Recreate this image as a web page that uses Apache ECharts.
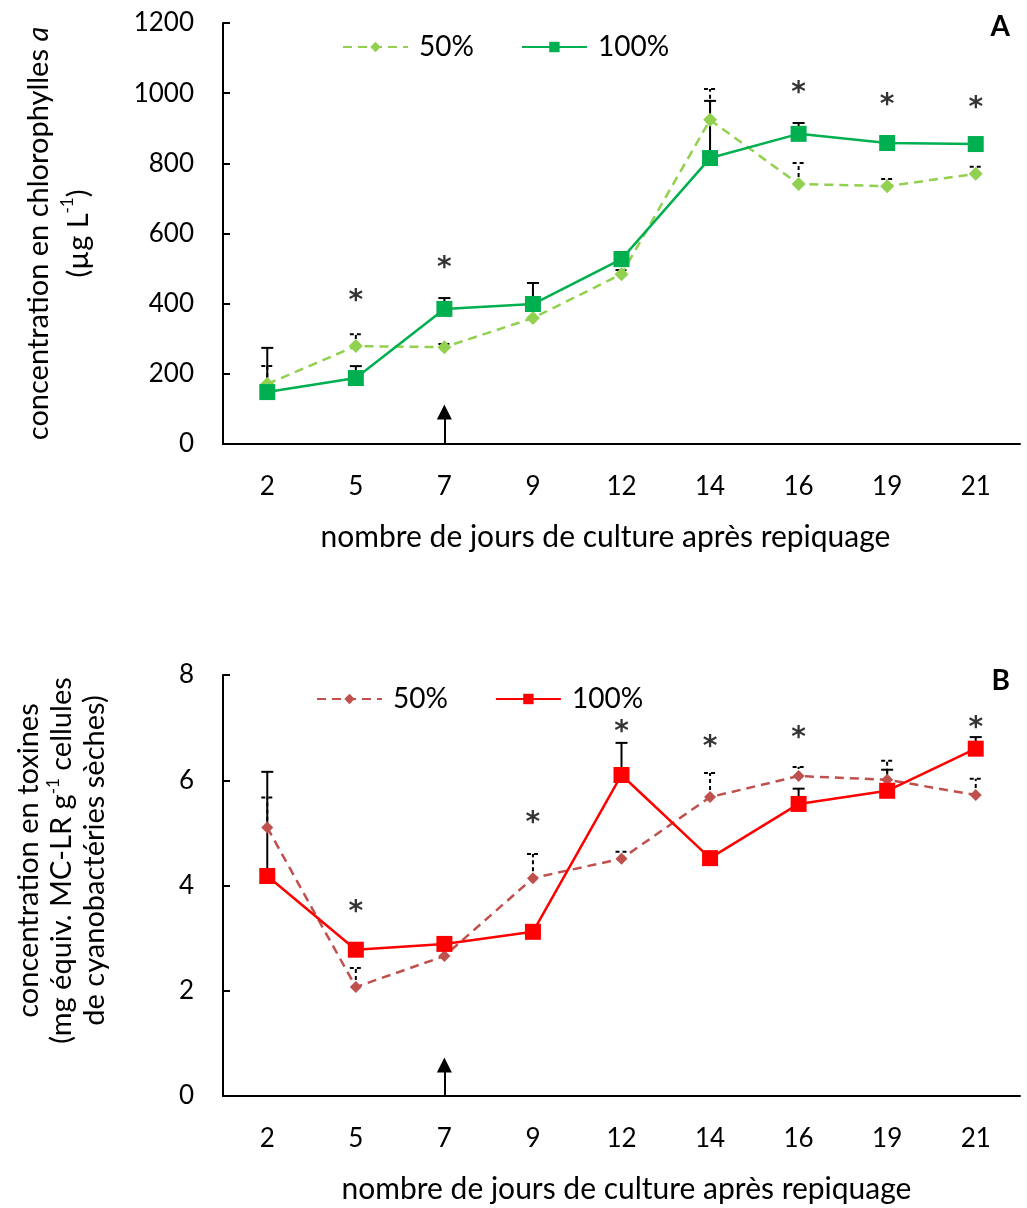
<!DOCTYPE html>
<html><head><meta charset="utf-8">
<script src="https://cdn.jsdelivr.net/npm/echarts@6/dist/echarts.min.js"></script>
<style>html,body{margin:0;padding:0;background:#fff}#c{width:1027px;height:1208px}</style>
</head><body><div id="c"></div>
<script>
const days = ['2','5','7','9','12','14','16','19','21'];
const chl50 = [171,279,276,359,484,924,741,735,770];
const chl50Err = [51,34,9,0,12,88,60,20,20];
const chl100 = [148,188,385,399,527,815,884,858,855];
const chl100Err = [126,34,31,60,20,163,31,0,0];
const chlStars = [null,425,519,null,null,null,1018,983,975];
const chlArrow = [0, 91];

const tox50 = [5.10,2.07,2.66,4.14,4.51,5.68,6.08,6.01,5.72];
const tox50Err = [0.57,0.36,0,0.46,0.13,0.46,0.17,0.36,0.31];
const tox100 = [4.18,2.78,2.89,3.12,6.10,4.52,5.55,5.80,6.60];
const tox100Err = [1.98,0,0,0,0.61,0,0.29,0.40,0.22];
const toxStars = [null,3.61,null,5.30,7.03,6.75,6.92,null,7.11];
const toxArrow = [0, 0.59];

const FONT = 'Lato';
const chart = echarts.init(document.getElementById('c'));

function errData(v, e){ const out=[]; v.forEach((x,i)=>{ if(e[i]>0) out.push([i, x, x+e[i]]); }); return out; }
function errRender(dash){
  return function(params, api){
    const b = api.coord([api.value(0), api.value(1)]);
    const t = api.coord([api.value(0), api.value(2)]);
    const st = {stroke:'#000', lineWidth:2, lineDash: dash ? [4,3] : null};
    return {type:'group', children:[
      {type:'line', shape:{x1:b[0],y1:b[1],x2:t[0],y2:t[1]}, style:st},
      {type:'line', shape:{x1:t[0]-6,y1:t[1],x2:t[0]+6,y2:t[1]}, style:st}
    ]};
  };
}
function starData(s){ return s.map((v,i)=> v==null ? null : [i, v]).filter(d=>d); }

function xAx(gi, pad){
  return {type:'category', gridIndex:gi, data:days, boundaryGap:true,
    axisLine:{lineStyle:{color:'#000', width:2}},
    axisTick:{inside:true, length:9, lineStyle:{color:'#000', width:2}},
    axisLabel:{color:'#000', fontSize:26, fontFamily:FONT, margin:30},
    name:'nombre de jours de culture après repiquage', nameLocation:'middle', nameGap:78,
    nameTextStyle:{color:'#000', fontSize:30, fontFamily:FONT, padding:pad}};
}
function yAx(gi, max, interval, name, gap, pad, lh){
  return {type:'value', gridIndex:gi, min:0, max:max, interval:interval,
    splitLine:{show:false},
    axisLine:{show:true, lineStyle:{color:'#000', width:2}},
    axisTick:{show:true, inside:true, length:7, lineStyle:{color:'#000', width:2}},
    axisLabel:{color:'#000', fontSize:26, fontFamily:FONT, margin:29, formatter: v => String(v)},
    name:name, nameLocation:'middle', nameGap:gap, nameRotate:90,
    nameTextStyle:{color:'#000', fontSize:29, fontFamily:FONT, lineHeight:lh, padding:pad, align:'center',
      rich:{
        t:{fontSize:29, fontFamily:FONT, color:'#000', lineHeight:lh},
        i:{fontSize:29, fontFamily:FONT, color:'#000', fontStyle:'italic', lineHeight:lh},
        s:{fontSize:17, fontFamily:FONT, color:'#000', verticalAlign:'top', lineHeight:lh - 4}
      }}};
}
function lineSeries(name, data, gi, color, dashed, symbol, size, arrow){
  const s = {type:'line', name:name, data:data, xAxisIndex:gi, yAxisIndex:gi,
    symbol:symbol, symbolSize:size, z:5,
    lineStyle:{color:color, width:2.5, type: dashed ? [9,6] : 'solid'},
    itemStyle:{color:color}};
  if(arrow){
    s.markLine = {silent:true, symbol:['none','triangle'], symbolSize:[15,15],
      lineStyle:{color:'#000', width:2, type:'solid'}, label:{show:false},
      data:[[{coord:['7', arrow[0]]},{coord:['7', arrow[1]]}]]};
  }
  return s;
}
function errSeries(v, e, gi, dash){
  return {type:'custom', xAxisIndex:gi, yAxisIndex:gi, renderItem:errRender(dash),
    data:errData(v,e), encode:{x:0, y:[1,2]}, z:3, silent:true};
}
function starSeries(s, gi){
  return {type:'scatter', xAxisIndex:gi, yAxisIndex:gi, data:starData(s), symbolSize:1,
    itemStyle:{color:'rgba(0,0,0,0)'}, silent:true,
    label:{show:true, position:'inside', formatter:'*', color:'#000', fontSize:28, fontWeight:'bold', fontFamily:'DejaVu Sans', offset:[0,7]}};
}
function legend(top, left, names){
  return {top:top, left:left, itemWidth:65, itemHeight:13, itemGap:47, data:names,
    formatter: n => n.replace(' B',''),
    textStyle:{color:'#000', fontSize:28, fontFamily:FONT, padding:[0,0,0,6]}};
}

chart.setOption({
  animation:false,
  textStyle:{fontFamily:FONT},
  title:[
    {text:'A', right:12, top:8, textStyle:{fontSize:28, fontWeight:'bold', color:'#000', fontFamily:FONT}},
    {text:'B', right:12, top:662, textStyle:{fontSize:28, fontWeight:'bold', color:'#000', fontFamily:FONT}}
  ],
  legend:[legend(28, 337, ['50%','100%']), legend(680, 311, ['50% B','100% B'])],
  grid:[
    {left:223, top:23, width:797, height:421},
    {left:223, top:675, width:797, height:421}
  ],
  xAxis:[xAx(0,[0,32,0,0]), xAx(1,[0,0,0,10])],
  yAxis:[
    yAx(0, 1200, 200, '{t|concentration en chlorophylles }{i|a}\n{t|(µg L}{s|-1}{t|)}', 124, [0,0,0,0], 40),
    yAx(1, 8, 2, '{t|concentration en toxines}\n{t|(mg équiv. MC-LR g}{s|-1}{t| cellules}\n{t|de cyanobactéries sèches)}', 112, [0,0,0,50], 33)
  ],
  series:[
    errSeries(chl100, chl100Err, 0, false),
    errSeries(chl50, chl50Err, 0, true),
    lineSeries('50%', chl50, 0, '#92D050', true, 'diamond', 14),
    lineSeries('100%', chl100, 0, '#00B050', false, 'rect', 16, chlArrow),
    starSeries(chlStars, 0),
    errSeries(tox100, tox100Err, 1, false),
    errSeries(tox50, tox50Err, 1, true),
    lineSeries('50% B', tox50, 1, '#C0504D', true, 'diamond', 12),
    lineSeries('100% B', tox100, 1, '#FF0000', false, 'rect', 16, toxArrow),
    starSeries(toxStars, 1)
  ]
});
</script></body></html>
